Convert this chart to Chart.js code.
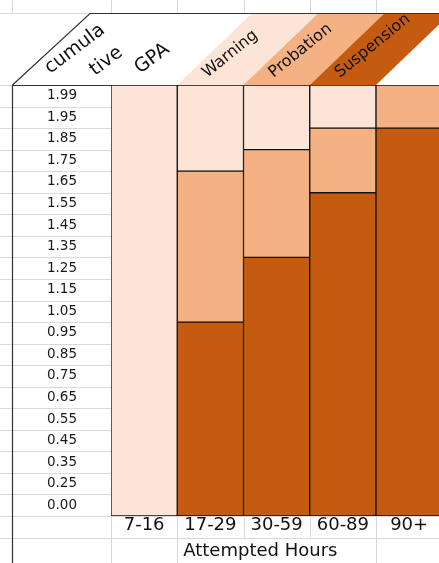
<!DOCTYPE html>
<html>
<head>
<meta charset="utf-8">
<script src="https://cdn.jsdelivr.net/npm/chart.js@4/dist/chart.umd.min.js"></script>
<style>
  html, body { margin: 0; padding: 0; background: #fff; overflow: hidden; }
  #wrap { width: 460px; height: 563px; position: relative; }
</style>
</head>
<body>
<div id="wrap"><canvas id="c"></canvas></div>
<script>
// ---- data ----
const categories = ["7-16", "17-29", "30-59", "60-89", "90+"];
const gpaRowLabels = ["1.99", "1.95", "1.85", "1.75", "1.65", "1.55", "1.45", "1.35", "1.25", "1.15",
                      "1.05", "0.95", "0.85", "0.75", "0.65", "0.55", "0.45", "0.35", "0.25", "0.00"];
// number of GPA rows (from the bottom) covered by each status
const suspensionRows = [0, 9, 12, 15, 18];
const probationRows  = [0, 7, 5, 3, 2];
const warningRows    = [20, 4, 3, 2, 0];
const bandLabels = ["Warning", "Probation", "Suspension"];
const headerWords = ["cumula", "tive", "GPA"];
const axisTitle = "Attempted Hours";

const COL_WARN = "#FCE4D6", COL_PROB = "#F4B183", COL_SUSP = "#C55A11";
const GRID = "#d9d9d9", INK = "#111111";
const FONT = "DejaVu Sans";

const sheetPlugin = {
  id: "sheet",
  beforeDraw(chart) {
    const ctx = chart.ctx, ca = chart.chartArea;
    const W = chart.width, H = chart.height;
    const x = chart.scales.x, yl = chart.scales.yl;
    const colW = x.getPixelForValue(1) - x.getPixelForValue(0);
    const edges = [];
    for (let i = 0; i < categories.length; i++) edges.push(x.getPixelForValue(i) - colW / 2);
    edges.push(x.getPixelForValue(categories.length - 1) + colW / 2);
    const rowH = yl.getPixelForValue(1) - yl.getPixelForValue(0);
    const headH = 72;
    const hTop = ca.top - headH;
    ctx.save();
    ctx.fillStyle = "#fff";
    ctx.fillRect(0, 0, W, H);
    ctx.strokeStyle = GRID;
    ctx.lineWidth = 1;
    ctx.beginPath();
    // row lines in the label column
    for (let i = 1; i < gpaRowLabels.length; i++) {
      const y = Math.round(yl.getPixelForValue(i) - rowH / 2) + 0.5;
      ctx.moveTo(0, y); ctx.lineTo(ca.left, y);
    }
    ctx.moveTo(0, ca.top + 0.5); ctx.lineTo(12, ca.top + 0.5);
    // top spreadsheet row
    ctx.moveTo(0, hTop + 0.5); ctx.lineTo(90, hTop + 0.5);
    [12, ca.left].concat(edges).forEach(e => { ctx.moveTo(Math.round(e) + 0.5, 0); ctx.lineTo(Math.round(e) + 0.5, hTop); });
    // bottom rows
    const r1 = ca.bottom, r2 = ca.bottom + 22;
    ctx.moveTo(0, r1 + 0.5); ctx.lineTo(W, r1 + 0.5);
    ctx.moveTo(0, r2 + 0.5); ctx.lineTo(W, r2 + 0.5);
    ctx.moveTo(ca.left + 0.5, r1); ctx.lineTo(ca.left + 0.5, H);
    edges.forEach((e, i) => {
      const xe = Math.round(e) + 0.5;
      ctx.moveTo(xe, r1); ctx.lineTo(xe, r2);
      if (i === 1 || i === 4) { ctx.moveTo(xe, r2); ctx.lineTo(xe, H); }
    });
    ctx.stroke();

    // header bands
    const skew = 75;
    const bandCols = [COL_WARN, COL_PROB, COL_SUSP];
    bandLabels.forEach((lab, k) => {
      const l = edges[k + 1], r = edges[k + 2];
      ctx.fillStyle = bandCols[k];
      ctx.beginPath();
      ctx.moveTo(l, ca.top); ctx.lineTo(r, ca.top);
      ctx.lineTo(r + skew, hTop); ctx.lineTo(l + skew, hTop);
      ctx.closePath(); ctx.fill();
    });
    ctx.restore();
  },
  afterDraw(chart) {
    const ctx = chart.ctx, ca = chart.chartArea;
    const W = chart.width, H = chart.height;
    const x = chart.scales.x;
    const colW = x.getPixelForValue(1) - x.getPixelForValue(0);
    const edge = i => x.getPixelForValue(i) - colW / 2;
    const headH = 72, hTop = ca.top - headH;
    ctx.save();
    ctx.strokeStyle = "#333";
    ctx.lineWidth = 1.2;
    ctx.beginPath();
    ctx.moveTo(12.5, ca.top); ctx.lineTo(12.5, H);
    ctx.moveTo(12, ca.top + 0.5); ctx.lineTo(ca.left, ca.top + 0.5);
    ctx.moveTo(12.5, ca.top); ctx.lineTo(90, hTop + 0.5);
    ctx.lineTo(W, hTop + 0.5);
    ctx.stroke();

    ctx.fillStyle = INK;
    ctx.textAlign = "left";
    ctx.textBaseline = "alphabetic";
    // header words
    ctx.font = "19px '" + FONT + "'";
    const wordPos = [[-61, -11], [-16, -9], [29, -11]];
    headerWords.forEach((w, i) => {
      ctx.save();
      ctx.translate(ca.left + wordPos[i][0], ca.top + wordPos[i][1]);
      ctx.rotate(-37 * Math.PI / 180);
      ctx.fillText(w, 0, 0);
      ctx.restore();
    });
    // band labels
    ctx.font = "16px '" + FONT + "'";
    bandLabels.forEach((lab, k) => {
      ctx.save();
      ctx.translate(edge(k + 1) + 30, ca.top - 7);
      ctx.rotate(-39 * Math.PI / 180);
      ctx.fillText(lab, 0, 0);
      ctx.restore();
    });
    // axis title
    ctx.font = "18px '" + FONT + "'";
    ctx.fillText(axisTitle, edge(1) + 6, ca.bottom + 40);
    ctx.restore();
  }
};

new Chart(document.getElementById("c"), {
  type: "bar",
  data: {
    labels: categories,
    datasets: [
      { label: "Suspension", data: suspensionRows, backgroundColor: COL_SUSP },
      { label: "Probation", data: probationRows, backgroundColor: COL_PROB },
      { label: "Warning", data: warningRows, backgroundColor: COL_WARN }
    ].map(d => Object.assign(d, {
      borderColor: "#111", borderWidth: 1, borderSkipped: false,
      barPercentage: 1, categoryPercentage: 1, yAxisID: "y"
    }))
  },
  options: {
    responsive: true,
    maintainAspectRatio: false,
    animation: false,
    layout: { padding: { left: 12, top: 85, right: 17.75, bottom: 0 } },
    plugins: { legend: { display: false }, tooltip: { enabled: false } },
    scales: {
      x: {
        stacked: true,
        grid: { display: false },
        border: { display: false },
        ticks: { color: INK, font: { family: FONT, size: 18 }, padding: -9 },
        afterFit(s) { s.height = 47; }
      },
      y: { stacked: true, min: 0, max: 20, display: false },
      yl: {
        type: "category",
        labels: gpaRowLabels,
        position: "left",
        offset: true,
        grid: { display: false },
        border: { display: false },
        ticks: { color: "#1a1a1a", font: { family: FONT, size: 13.5 }, padding: 26, crossAlign: "near" },
        afterFit(s) { s.width = 99; }
      }
    }
  },
  plugins: [sheetPlugin]
});
</script>
</body>
</html>
